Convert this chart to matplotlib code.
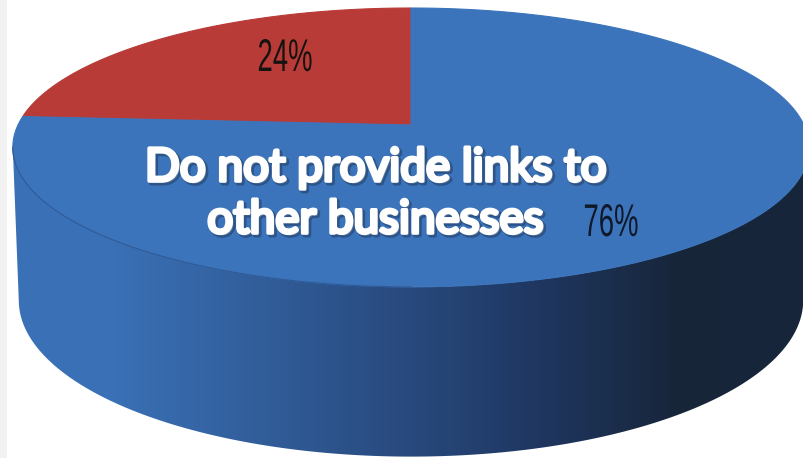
import numpy as np
import matplotlib
matplotlib.use('Agg')
import matplotlib.pyplot as plt
import matplotlib.patheffects as pe
from matplotlib.colors import LinearSegmentedColormap
from matplotlib.patches import Polygon, Rectangle
from matplotlib.transforms import Affine2D

# Pie data
labels = ['24%', '76%']
values = [24, 76]
slice_colors = ['#B93B37', '#3B74BB']
title_lines = ['Do not provide links to', 'other businesses']

# Perspective disc: viewer sits in front, so the near half looks bigger
CX, CY = 411, 125
RX = 393
A, C = -115.7, 0.161


def disc_xy(theta):
    # theta is 0 at the back and grows counter-clockwise
    u = -np.sin(theta)
    v = np.cos(theta)
    w = 1 + C * v
    return CX + RX * u / w, (A * v + CY) / w


def lower_xy(theta):
    # base ring of the cylinder
    x, y = disc_xy(theta)
    return CX + (x - CX) * 0.985, y * 1.121 + 135


class Squeeze(pe.AbstractPathEffect):
    # condensed lettering: narrows the glyph outlines around a pixel column
    def __init__(self, cx, sx):
        super().__init__()
        self.cx = cx
        self.sx = sx

    def draw_path(self, renderer, gc, tpath, affine, rgbFace=None):
        squeeze = Affine2D().translate(-self.cx, 0).scale(self.sx, 1).translate(self.cx, 0)
        renderer.draw_path(gc, tpath, affine + squeeze, rgbFace)


fig = plt.figure(figsize=(8.04, 4.58), dpi=100, facecolor='white')
ax = fig.add_axes([0, 0, 1, 1])
ax.axis('off')
ax.set_xlim(0, 804)
ax.set_ylim(458, 0)

# Side wall with left-to-right shading
front = np.linspace(np.pi / 2 + np.arcsin(C), 3 * np.pi / 2 - np.arcsin(C), 300)
lx, ly = lower_xy(front)
tx, ty = disc_xy(front[::-1])
wall = Polygon(np.column_stack([np.r_[lx, tx], np.r_[ly, ty]]), closed=True,
               facecolor='none', edgecolor='none')
ax.add_patch(wall)
shade = LinearSegmentedColormap.from_list('wall', [
    (0.00, '#3A71B7'), (0.13, '#3A70B5'), (0.30, '#325F9C'), (0.50, '#28497D'),
    (0.66, '#1F3761'), (0.84, '#172539'), (1.00, '#18263C')])
im = ax.imshow(np.linspace(0, 1, 400)[None, :], cmap=shade, aspect='auto',
               extent=[10, 810, 460, 100], zorder=1)
im.set_clip_path(wall)

# Top face, one wedge per value
fractions = np.array(values) / sum(values)
edges = np.r_[0, np.cumsum(fractions)] * 2 * np.pi
for start, stop, color in zip(edges[:-1], edges[1:], slice_colors):
    th = np.linspace(start, stop, 300)
    x, y = disc_xy(th)
    ax.fill(np.r_[CX, x], np.r_[CY, y], color=color, lw=0.8, zorder=2)

# Seam between the top face and the wall
ax.plot(*disc_xy(np.linspace(np.pi / 2 + np.arcsin(C), np.pi, 100)),
        color='#2F5996', lw=0.8, zorder=3)

# Thin grey strip on the left margin
ax.add_patch(Rectangle((0, 0), 7, 458, facecolor='#F2F2F2', edgecolor='none', zorder=4))

# Percent labels
ax.text(285, 59, labels[0], fontsize=33, family='Liberation Sans', color='#15130F',
        ha='center', va='center', zorder=5, path_effects=[Squeeze(285, 0.6)])
ax.text(611, 224, labels[1], fontsize=33, family='Liberation Sans', color='#10182A',
        ha='center', va='center', zorder=5, path_effects=[Squeeze(611, 0.6)])

# Headline with rounded white strokes and a soft shadow
glow = [pe.Stroke(linewidth=3.5, foreground='#16263F', alpha=0.4, offset=(1.5, -1.5)),
        pe.Stroke(linewidth=2.6, foreground='white'), pe.Normal()]
ax.text(376, 168, title_lines[0], fontsize=33, family='Lato', color='white',
        ha='center', va='center', path_effects=glow, zorder=6)
ax.text(375.5, 220, title_lines[1], fontsize=33, family='Lato', color='white',
        ha='center', va='center', path_effects=glow, zorder=6)

fig.savefig('out.png', dpi=100)
